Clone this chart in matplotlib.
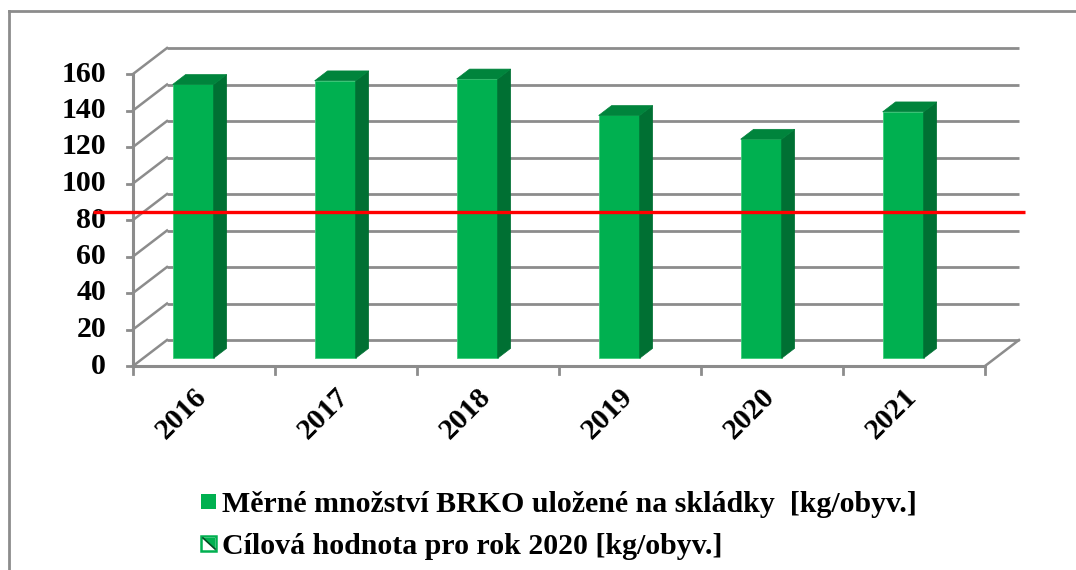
import matplotlib
matplotlib.use("Agg")
import matplotlib.pyplot as plt
from matplotlib.patches import Polygon, Rectangle
import numpy as np

# ---- data ----
years = ["2016", "2017", "2018", "2019", "2020", "2021"]
brko = [150, 152, 153, 133, 120, 135]          # kg per inhabitant landfilled
target_2020 = 80                               # target value for 2020
y_ticks = [0, 20, 40, 60, 80, 100, 120, 140, 160]
legend_labels = ["Měrné množství BRKO uložené na skládky  [kg/obyv.]",
                 "Cílová hodnota pro rok 2020 [kg/obyv.]"]

# ---- styling / layout ----
W, H, DPI = 1076, 570, 100
FONT = "Liberation Serif"
GREEN = "#00b050"
GREEN_SIDE = "#007033"
GREEN_TOP = "#00843c"
GRID = "#8c8c8c"

PX_CAT = 142.0        # pixels per category
PX_VAL = 1.825        # pixels per value unit
X0_PX, Y0_PX = 204.0, 366.0   # front plane: category 0 centre / value 0

fig = plt.figure(figsize=(W / DPI, H / DPI), dpi=DPI)
ax = fig.add_axes([0, 0, 1, 1])
ax.set_xlim(-X0_PX / PX_CAT, (W - X0_PX) / PX_CAT)
ax.set_ylim((Y0_PX - H) / PX_VAL, Y0_PX / PX_VAL)
ax.axis("off")

# depth vector of the 3-D box (front -> back), in data units
DX, DY = 34 / PX_CAT, 26 / PX_VAL

n = len(years)
cats = np.arange(n)
left, right = -0.5, n - 0.5
vmax = y_ticks[-1]

# back wall gridlines and left wall diagonals
for v in y_ticks:
    ax.plot([left + DX, right + DX], [v + DY, v + DY], color=GRID, lw=2, zorder=1,
            solid_capstyle="butt")
    ax.plot([left, left + DX], [v, v + DY], color=GRID, lw=1.8, zorder=1)
    # y tick mark
    ax.plot([left - 6 / PX_CAT, left], [v, v], color=GRID, lw=2, zorder=2)
    ax.text(left - 27 / PX_CAT, v, str(v), ha="right", va="center",
            fontsize=21.5, fontweight="bold", family=FONT, zorder=3)

# front vertical axis and floor
ax.plot([left, left], [0, vmax], color=GRID, lw=2.2, zorder=2)
ax.plot([left, right], [0, 0], color=GRID, lw=2.2, zorder=2)
ax.plot([right, right + DX], [0, DY], color=GRID, lw=1.8, zorder=2)
for k in range(n + 1):
    xb = left + k
    ax.plot([xb, xb], [0, -8 / PX_VAL], color=GRID, lw=2, zorder=2)

# category labels
for c, lab in zip(cats, years):
    ax.text(c + 0.06, -9.5, lab, rotation=45, ha="right", va="top",
            fontsize=21.5, fontweight="bold", family=FONT, zorder=3)

# 3-D columns
d_front, d_len = 0.30, 0.38
bw = 0.289
shift = -0.148
bx = cats + shift + d_front * DX
b0 = d_front * DY
ax.bar(bx, brko, width=bw, bottom=b0, color=GREEN, edgecolor="#3ccf7a",
       linewidth=0.6, zorder=4)
sdx, sdy = d_len * DX, d_len * DY
for x, v in zip(bx, brko):
    xl, xr = x - bw / 2, x + bw / 2
    top = b0 + v
    ax.add_patch(Polygon([(xr, b0), (xr, top), (xr + sdx, top + sdy), (xr + sdx, b0 + sdy)],
                         closed=True, facecolor=GREEN_SIDE, edgecolor=GREEN_SIDE,
                         lw=0.5, zorder=4))
    ax.add_patch(Polygon([(xl, top), (xr, top), (xr + sdx, top + sdy), (xl + sdx, top + sdy)],
                         closed=True, facecolor=GREEN_TOP, edgecolor=GREEN_TOP,
                         lw=0.5, zorder=4))

# target line
ax.plot([-0.782, n - 1 + 0.782], [target_2020 + b0, target_2020 + b0],
        color="#ff0000", lw=2.4, zorder=6, solid_capstyle="butt")

# outer chart frame (top and left edges)
def fx(px):
    return px / W

def fy(py):
    return 1 - py / H

fig.add_artist(plt.Line2D([fx(9), 1], [fy(11), fy(11)], color=GRID, lw=2))
fig.add_artist(plt.Line2D([fx(9), fx(9)], [fy(11), 0], color=GRID, lw=2))

# legend
sq = 15
m1 = Rectangle((fx(201), fy(509)), sq / W, sq / H, transform=fig.transFigure,
               facecolor=GREEN, edgecolor="none")
fig.add_artist(m1)
m2 = Rectangle((fx(201), fy(551)), sq / W, sq / H, transform=fig.transFigure,
               facecolor="white", edgecolor=GREEN, lw=1.8)
fig.add_artist(m2)
tri = Polygon([(fx(203), fy(538)), (fx(215), fy(549)), (fx(215), fy(538))],
              closed=True, transform=fig.transFigure, facecolor=GREEN,
              edgecolor="none")
fig.add_artist(tri)
fig.add_artist(plt.Line2D([fx(203), fx(215)], [fy(538), fy(549)],
                          color="#004d22", lw=1.2))
fig.text(fx(222), fy(501), legend_labels[0], ha="left", va="center_baseline",
         fontsize=21.5, fontweight="bold", family=FONT)
fig.text(fx(222), fy(544), legend_labels[1], ha="left", va="center_baseline",
         fontsize=21.5, fontweight="bold", family=FONT)

fig.savefig("out.png", dpi=DPI, facecolor="white")
